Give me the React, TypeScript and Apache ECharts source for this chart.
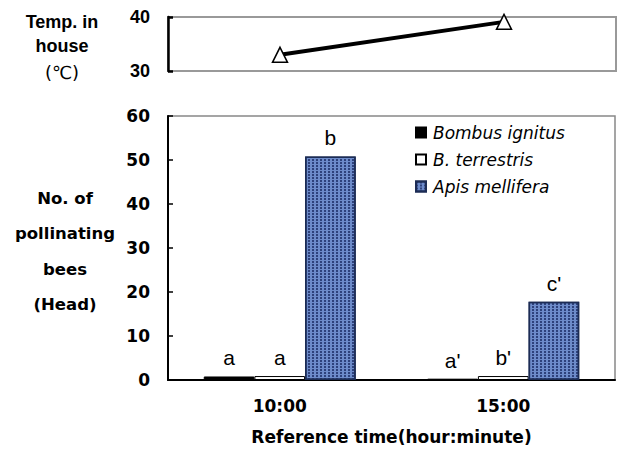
import React, { useEffect, useRef } from "react";
import * as echarts from "echarts";

const categories = ["10:00", "15:00"];
const tempValues = [33.0, 39.1];
const seriesNames = ["Bombus ignitus", "B. terrestris", "Apis mellifera"];
const bombusValues = [0.8, 0.3];
const terrestrisValues = [0.9, 0.9];
const apisValues = [50.8, 17.8];
const bombusLetters = ["a", "a'"];
const terrestrisLetters = ["a", "b'"];
const apisLetters = ["b", "c'"];
const tempAxis = { min: 30, max: 40, interval: 10 };
const beeAxis = { min: 0, max: 60, interval: 10 };
const yNameLines = ["No. of", "pollinating", "bees", "(Head)"];
const tempNameLines = ["Temp. in", "house", "(℃)"];
const xAxisName = "Reference time(hour:minute)";

const tickFont = { fontFamily: "Liberation Sans, Arial, sans-serif", fontWeight: "bold" as const, fontSize: 18, color: "#000" };
const bottomFont = { fontFamily: "DejaVu Sans, sans-serif", fontWeight: "bold" as const, fontSize: 17, color: "#000" };

export default function App() {
  const ref = useRef<HTMLDivElement>(null);
  useEffect(() => {
    if (!ref.current) return;
    const chart = echarts.init(ref.current, undefined, { renderer: "svg" });
    const letterLabel = (letters: string[]) => ({
      show: true,
      position: "top" as const,
      distance: 8,
      formatter: (p: any) => letters[p.dataIndex],
      fontFamily: "Liberation Sans, Arial, sans-serif",
      fontSize: 21,
      color: "#000",
    });
    const option: any = {
      animation: false,
      backgroundColor: "#fff",
      grid: [
        { left: 168, top: 17, width: 448, height: 54, show: true, borderColor: "#999", borderWidth: 2, containLabel: false },
        { left: 168, top: 116, width: 447, height: 268, show: true, borderColor: "#888", borderWidth: 1.5, containLabel: false },
      ],
      xAxis: [
        {
          type: "category", gridIndex: 0, data: categories,
          axisLine: { show: false }, axisTick: { show: false }, axisLabel: { show: false },
        },
        {
          type: "category", gridIndex: 1, data: categories,
          axisLine: { lineStyle: { color: "#000", width: 2 } },
          axisTick: { inside: true, length: 6, lineStyle: { color: "#000", width: 1.5 } },
          axisLabel: { ...bottomFont, margin: 17 },
          name: xAxisName, nameLocation: "middle", nameGap: 48,
          nameTextStyle: { ...bottomFont },
        },
      ],
      yAxis: [
        {
          type: "value", gridIndex: 0, ...tempAxis,
          splitLine: { show: false },
          axisLine: { show: true, lineStyle: { color: "#000", width: 2.5 } },
          axisTick: { show: true, inside: true, length: 5, lineStyle: { color: "#000", width: 2.5 } },
          axisLabel: { ...tickFont, margin: 18 },
        },
        {
          type: "value", gridIndex: 1, ...beeAxis,
          splitLine: { show: false },
          axisLine: { show: true, lineStyle: { color: "#000", width: 2 } },
          axisTick: { show: true, inside: true, length: 5, lineStyle: { color: "#000", width: 1.5 } },
          axisLabel: { ...bottomFont, margin: 18 },
        },
      ],
      legend: {
        data: seriesNames,
        orient: "vertical",
        left: 410,
        top: 119,
        itemWidth: 10,
        itemHeight: 10,
        itemGap: 10,
        icon: "rect",
        textStyle: { fontFamily: "DejaVu Sans, sans-serif", fontStyle: "italic", fontSize: 17, color: "#000", lineHeight: 17, padding: [0, 0, 0, 2] },
      },
      series: [
        {
          type: "line", xAxisIndex: 0, yAxisIndex: 0, data: tempValues,
          lineStyle: { color: "#000", width: 4 },
          symbol: "triangle", symbolSize: 15,
          itemStyle: { color: "#fff", borderColor: "#000", borderWidth: 1.5 },
          z: 5,
        },
        {
          name: seriesNames[0], type: "bar", xAxisIndex: 1, yAxisIndex: 1, data: bombusValues,
          barGap: "0%", barCategoryGap: "32%",
          itemStyle: { color: "#000", borderColor: "#000", borderWidth: 1 },
          label: letterLabel(bombusLetters),
        },
        {
          name: seriesNames[1], type: "bar", xAxisIndex: 1, yAxisIndex: 1, data: terrestrisValues,
          barGap: "0%", barCategoryGap: "32%",
          itemStyle: { color: "#fff", borderColor: "#000", borderWidth: 1 },
          label: letterLabel(terrestrisLetters),
        },
        {
          name: seriesNames[2], type: "bar", xAxisIndex: 1, yAxisIndex: 1, data: apisValues,
          barGap: "0%", barCategoryGap: "32%",
          itemStyle: {
            color: "#6d8bca", borderColor: "#1c2c55", borderWidth: 1.5,
            decal: { symbol: "rect", symbolSize: 1, color: "rgba(30,48,105,0.8)", dashArrayX: [2, 2], dashArrayY: [2, 1], rotation: 0 },
          },
          label: letterLabel(apisLetters),
        },
      ],
      graphic: [
        ...tempNameLines.map((t, i) => ({
          type: "text", x: 62, y: [22, 46, 72][i],
          style: {
            text: t, textAlign: "center", textVerticalAlign: "middle",
            fontFamily: i === 2 ? "DejaVu Sans, sans-serif" : "Liberation Sans, Arial, sans-serif",
            fontWeight: i === 2 ? "normal" : "bold", fontSize: 18, fill: "#000",
          },
        })),
        ...yNameLines.map((t, i) => ({
          type: "text", x: 65, y: 198 + i * 35.5,
          style: {
            text: t, textAlign: "center", textVerticalAlign: "middle",
            fontFamily: "DejaVu Sans, sans-serif", fontWeight: "bold", fontSize: 16.5, fill: "#000",
          },
        })),
      ],
    };
    chart.setOption(option);
    return () => chart.dispose();
  }, []);
  return <div ref={ref} style={{ position: "absolute", left: 0, top: 0, width: 620, height: 450, background: "#fff" }} />;
}
